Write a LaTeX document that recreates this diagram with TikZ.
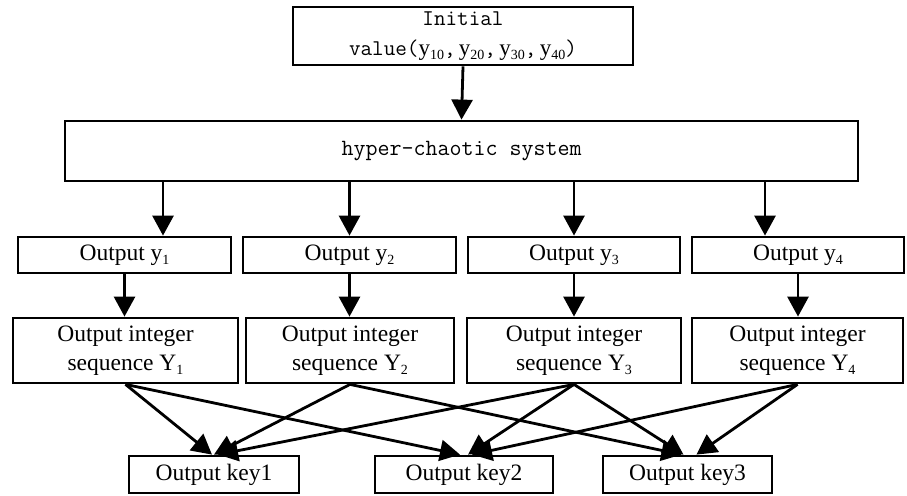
\documentclass[tikz,border=0pt]{standalone}
\usepackage{fontspec}
\setmainfont{Liberation Serif}
\usetikzlibrary{arrows.meta}
\newcommand\sbs[1]{\raisebox{-0.35ex}{\fontsize{14}{14}\selectfont #1}}
\newcommand\yv[1]{{\rmfamily\fontsize{23}{23}\selectfont y\sbs{#1}}}
\begin{document}
\begin{tikzpicture}[x=1pt,y=-1pt,
  box/.style={draw, line width=2.8pt, inner sep=0pt, align=center},
  arr/.style={line width=2.8pt, -{Triangle[length=20pt,width=21pt]}},
  lab/.style={font=\fontsize{23.5}{29}\selectfont}]
\useasboundingbox (0,0) rectangle (907,495);
% top
\node[box, minimum width=340pt, minimum height=58pt,
      font=\ttfamily\fontsize{22.5}{30}\selectfont] (init) at (463,36)
  {Initial\\value(\yv{10},\hspace{0.15em}\yv{20},\hspace{0.15em}\yv{30},\hspace{0.15em}\yv{40})};
\node[box, minimum width=793pt, minimum height=60pt,
      font=\ttfamily\fontsize{23.3}{23.3}\selectfont] (hyp) at (461.5,151) {hyper-chaotic system};
% outputs
\node[box, lab, minimum width=213pt, minimum height=36pt] (o1) at (124.5,255) {Output y\sbs{1}};
\node[box, lab, minimum width=213pt, minimum height=36pt] (o2) at (349.5,255) {Output y\sbs{2}};
\node[box, lab, minimum width=212pt, minimum height=36pt] (o3) at (574,255) {Output y\sbs{3}};
\node[box, lab, minimum width=212pt, minimum height=36pt] (o4) at (798,255) {Output y\sbs{4}};
% integer sequences
\node[box, lab, minimum width=225pt, minimum height=65pt] (i1) at (125.5,350.5) {Output integer\\sequence Y\sbs{1}};
\node[box, lab, minimum width=208pt, minimum height=65pt] (i2) at (350,350.5) {Output integer\\sequence Y\sbs{2}};
\node[box, lab, minimum width=214pt, minimum height=65pt] (i3) at (574,350.5) {Output integer\\sequence Y\sbs{3}};
\node[box, lab, minimum width=211pt, minimum height=65pt] (i4) at (797.5,350.5) {Output integer\\sequence Y\sbs{4}};
% keys
\node[box, lab, minimum width=170pt, minimum height=37pt] (k1) at (214,474.5) {Output key1};
\node[box, lab, minimum width=178pt, minimum height=37pt] (k2) at (464,474.5) {Output key2};
\node[box, lab, minimum width=169pt, minimum height=37pt] (k3) at (687.5,474.5) {Output key3};
% arrows
\draw[arr] (init.south) -- (hyp.north);
\draw[arr] ([xshift=38.5pt]o1.north |- hyp.south) -- ([xshift=38.5pt]o1.north);
\draw[arr] (o2.north |- hyp.south) -- (o2.north);
\draw[arr] (o3.north |- hyp.south) -- (o3.north);
\draw[arr] ([xshift=-33pt]o4.north |- hyp.south) -- ([xshift=-33pt]o4.north);
\draw[arr] (o1.south) -- (o1.south |- i1.north);
\draw[arr] (o2.south) -- (o2.south |- i2.north);
\draw[arr] (o3.south) -- (o3.south |- i3.north);
\draw[arr] (o4.south) -- (o4.south |- i4.north);
% to keys
\draw[arr] (i1.south) -- ([xshift=-2pt]k1.north);
\draw[arr] (i2.south) -- ([xshift=0pt]k1.north);
\draw[arr] (i3.south) -- ([xshift=4pt]k1.north);
\draw[arr] (i1.south) -- ([xshift=-4pt]k2.north);
\draw[arr] (i3.south) -- ([xshift=4pt]k2.north);
\draw[arr] (i4.south) -- ([xshift=8pt]k2.north);
\draw[arr] (i2.south) -- ([xshift=-6pt]k3.north);
\draw[arr] (i3.south) -- ([xshift=-4pt]k3.north);
\draw[arr] (i4.south) -- ([xshift=9pt]k3.north);
\end{tikzpicture}
\end{document}
